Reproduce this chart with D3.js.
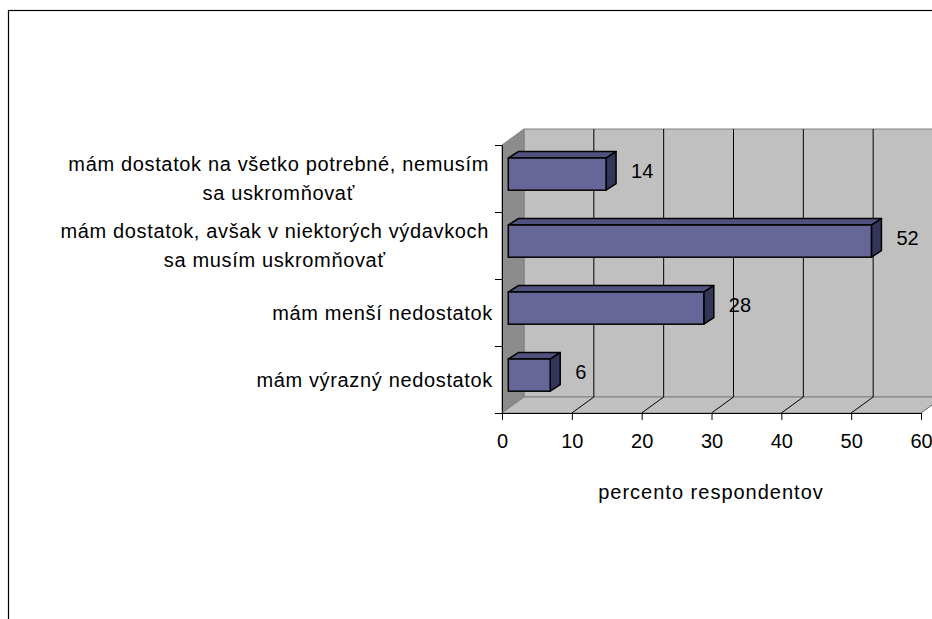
<!DOCTYPE html>
<html>
<head>
<meta charset="utf-8">
<script src="https://cdn.jsdelivr.net/npm/d3@7"></script>
<style>
  body { margin: 0; background: #fff; }
  svg text { font-family: Arial, "Liberation Sans", sans-serif; fill: #000; }
</style>
</head>
<body>
<div id="chart"></div>
<script>
// categories, top to bottom, each split into its printed lines
const categories = [
  ["mám dostatok na všetko potrebné, nemusím", "sa uskromňovať"],
  ["mám dostatok, avšak v niektorých výdavkoch", "sa musím uskromňovať"],
  ["mám menší nedostatok"],
  ["mám výrazný nedostatok"]
];
const values = [14, 52, 28, 6];
const xTicks = [0, 10, 20, 30, 40, 50, 60];
const xTitle = "percento respondentov";

const width = 932, height = 619;

const svg = d3.select("#chart")
  .append("svg")
    .attr("width", width)
    .attr("height", height);

// outer frame of the chart (runs off the right and bottom edge)
svg.append("rect")
  .attr("x", 8.5)
  .attr("y", 10.5)
  .attr("width", 1000)
  .attr("height", 1000)
  .attr("fill", "none")
  .attr("stroke", "#000")
  .attr("stroke-width", 1.2);

const x = d3.scaleLinear()
  .domain([0, 60])
  .range([502, 921]);

const y = d3.scaleBand()
  .domain(d3.range(categories.length))
  .range([145, 413]);

// depth of the 3d box, and of the bars inside it
const depthX = 22, depthY = -16;
const barShiftX = 6.3, barShiftY = -4.4;
const barDX = 10, barDY = -6.5;
const barH = y.bandwidth() * 0.48;

const plotTop = y.range()[0], plotBottom = y.range()[1];
const x0 = x(0), xEnd = x(60);

// back wall
svg.append("polygon")
  .attr("points", [[x0 + depthX, plotTop + depthY], [xEnd + depthX + 40, plotTop + depthY],
                   [xEnd + depthX + 40, plotBottom + depthY], [x0 + depthX, plotBottom + depthY]].join(" "))
  .attr("fill", "#c0c0c0")
  .attr("stroke", "#808080");

// left wall
svg.append("polygon")
  .attr("points", [[x0, plotTop], [x0 + depthX, plotTop + depthY],
                   [x0 + depthX, plotBottom + depthY], [x0, plotBottom]].join(" "))
  .attr("fill", "#8c8c8c")
  .attr("stroke", "#808080");

// floor
svg.append("polygon")
  .attr("points", [[x0, plotBottom], [xEnd, plotBottom],
                   [xEnd + depthX, plotBottom + depthY], [x0 + depthX, plotBottom + depthY]].join(" "))
  .attr("fill", "#c0c0c0")
  .attr("stroke", "#808080");

// gridlines on back wall and floor
svg.append("g")
  .selectAll("line")
  .data(xTicks.slice(1))
  .enter()
  .append("line")
    .attr("x1", (d) => x(d) + depthX)
    .attr("x2", (d) => x(d) + depthX)
    .attr("y1", plotTop + depthY)
    .attr("y2", plotBottom + depthY)
    .attr("stroke", "#000")
    .attr("stroke-width", 1);

svg.append("g")
  .selectAll("line")
  .data(xTicks.slice(1))
  .enter()
  .append("line")
    .attr("x1", (d) => x(d))
    .attr("x2", (d) => x(d) + depthX)
    .attr("y1", plotBottom)
    .attr("y2", plotBottom + depthY)
    .attr("stroke", (d) => d === 60 ? "#808080" : "#000")
    .attr("stroke-width", 1);

// x axis
const xAxis = svg.append("g")
  .attr("transform", `translate(0, ${plotBottom})`)
  .call(d3.axisBottom(x).tickValues(xTicks).tickSize(7).tickSizeOuter(0).tickPadding(14));
xAxis.select(".domain").attr("stroke", "#000");
xAxis.selectAll(".tick line").attr("stroke", "#000");
xAxis.selectAll("text")
  .attr("font-size", "20px")
  .attr("font-family", "Arial, 'Liberation Sans', sans-serif");

// category axis, ticks at band boundaries
const yEdges = d3.scaleLinear()
  .domain([0, categories.length])
  .range([plotTop, plotBottom]);
const yAxis = svg.append("g")
  .attr("transform", `translate(${x0}, 0)`)
  .call(d3.axisLeft(yEdges).ticks(categories.length).tickSize(7).tickSizeOuter(0).tickFormat(""));
yAxis.select(".domain").attr("stroke", "#000");
yAxis.selectAll(".tick line").attr("stroke", "#000");

// bars
const bars = svg.append("g")
  .selectAll("g")
  .data(values)
  .enter()
  .append("g");

const bx0 = x(0) + barShiftX;
const by = (i) => y(i) + y.bandwidth() / 2 + barShiftY - barH / 2;

bars.append("polygon")
  .attr("points", (d, i) => [[bx0, by(i)], [bx0 + barDX, by(i) + barDY],
                             [x(d) + barShiftX + barDX, by(i) + barDY], [x(d) + barShiftX, by(i)]].join(" "))
  .attr("fill", "#52527f")
  .attr("stroke", "#000")
  .attr("stroke-width", 1.5)
  .attr("stroke-linejoin", "round");

bars.append("polygon")
  .attr("points", (d, i) => {
    const xe = x(d) + barShiftX;
    return [[xe, by(i)], [xe + barDX, by(i) + barDY],
            [xe + barDX, by(i) + barDY + barH], [xe, by(i) + barH]].join(" ");
  })
  .attr("fill", "#35355a")
  .attr("stroke", "#000")
  .attr("stroke-width", 1.5)
  .attr("stroke-linejoin", "round");

bars.append("rect")
  .attr("x", bx0)
  .attr("y", (d, i) => by(i))
  .attr("width", (d) => x(d) - x(0))
  .attr("height", barH)
  .attr("fill", "#666699")
  .attr("stroke", "#000")
  .attr("stroke-width", 1.5);

// value labels
bars.append("text")
  .attr("x", (d) => x(d) + barShiftX + 25)
  .attr("y", (d, i) => y(i) + y.bandwidth() / 2 + barShiftY - 3.5)
  .attr("dy", "0.35em")
  .attr("font-size", "20px")
  .text((d) => d);

// category labels
const labelRight = 493, blockRight = 489, lineGap = 28.5;
const labels = svg.append("g")
  .selectAll("text")
  .data(categories)
  .enter()
  .append("text")
    .attr("font-size", "20px")
    .attr("letter-spacing", "0.65px");

labels.each(function(lines, i) {
  const t = d3.select(this);
  const cy = y(i) + y.bandwidth() / 2;
  const spans = t.selectAll("tspan")
    .data(lines)
    .enter()
    .append("tspan")
      .attr("y", (d, j) => cy + (j - (lines.length - 1) / 2) * lineGap)
      .attr("dy", "0.35em")
      .text((d) => d);
  if (lines.length === 1) {
    t.attr("text-anchor", "end");
    spans.attr("x", labelRight);
  } else {
    let maxW = 0;
    spans.each(function() { maxW = Math.max(maxW, this.getComputedTextLength()); });
    t.attr("text-anchor", "middle");
    spans.attr("x", blockRight - maxW / 2);
  }
});

// axis title
svg.append("text")
  .attr("x", 711)
  .attr("y", 492)
  .attr("dy", "0.35em")
  .attr("text-anchor", "middle")
  .attr("font-size", "20px")
  .attr("letter-spacing", "1px")
  .text(xTitle);
</script>
</body>
</html>
